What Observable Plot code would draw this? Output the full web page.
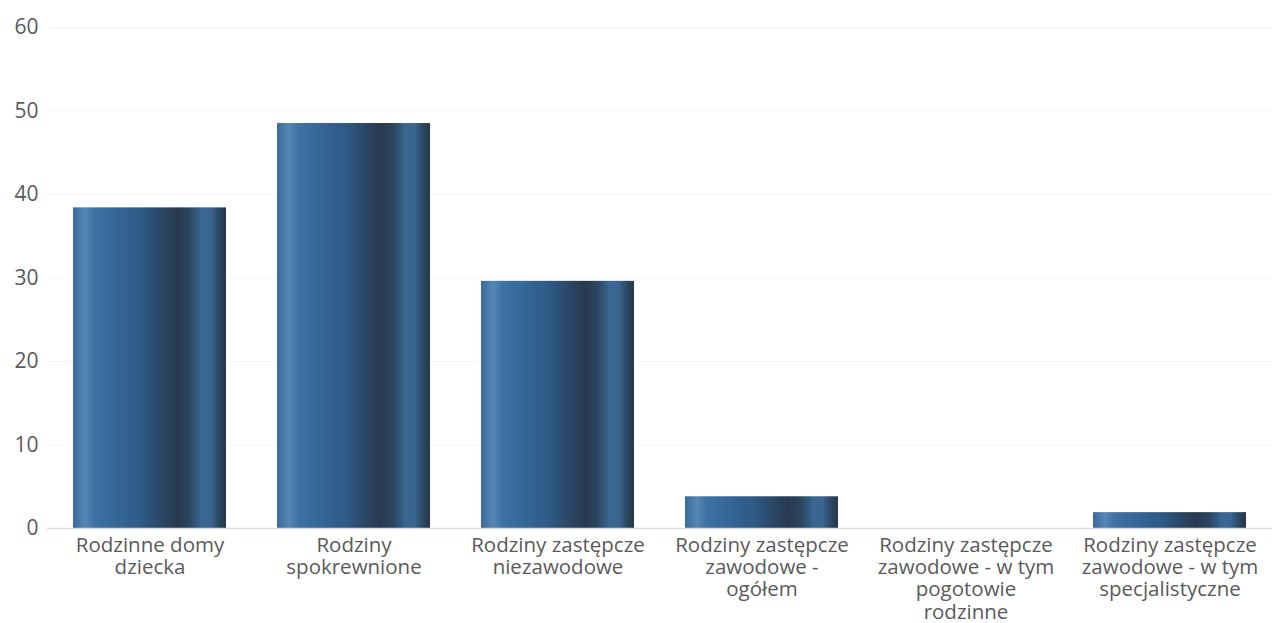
<!DOCTYPE html>
<html><head><meta charset="utf-8">
<script src="https://cdn.jsdelivr.net/npm/d3@7"></script>
<script src="https://cdn.jsdelivr.net/npm/@observablehq/plot@0.6"></script>
<style>
html,body{margin:0;padding:0;background:#fff;overflow:hidden;}
#chart{width:1272px;height:623px;}
</style></head>
<body><div id="chart"></div>
<script>
const categories = [
  "Rodzinne domy\ndziecka",
  "Rodziny\nspokrewnione",
  "Rodziny zastępcze\nniezawodowe",
  "Rodziny zastępcze\nzawodowe -\nogółem",
  "Rodziny zastępcze\nzawodowe - w tym\npogotowie\nrodzinne",
  "Rodziny zastępcze\nzawodowe - w tym\nspecjalistyczne"
];
const values = [38.4, 48.5, 29.6, 3.8, 0, 1.9];
const yTicks = [0, 10, 20, 30, 40, 50, 60];

const data = categories.map((c, i) => ({category: c, value: values[i]}));

const gradStops = [
  [0, "#3b6a99"], [0.08, "#5587b5"], [0.14, "#3f72a3"], [0.28, "#356797"],
  [0.45, "#2e5a86"], [0.58, "#2a4665"], [0.68, "#283a50"], [0.76, "#2b4560"],
  [0.84, "#3a6792"], [0.9, "#3a6590"], [0.96, "#2c445e"], [1, "#27374a"]
];

const defs = () => {
  const d = d3.create("svg:defs");
  const g = d.append("linearGradient").attr("id", "barGrad")
    .attr("x1", "0").attr("x2", "1").attr("y1", "0").attr("y2", "0");
  gradStops.forEach(([o, c]) => g.append("stop").attr("offset", o).attr("stop-color", c));
  return d.node();
};

const chart = Plot.plot({
  width: 1272,
  height: 623,
  marginLeft: 47,
  marginRight: 0,
  marginTop: 27,
  marginBottom: 95,
  style: {fontFamily: "'Open Sans', 'Noto Sans', sans-serif", fontSize: "21px", color: "#5a5a5a", background: "#fff"},
  x: {domain: categories, paddingInner: 0.25, paddingOuter: 0.125, label: null},
  y: {domain: [0, 60], label: null},
  marks: [
    defs,
    Plot.gridY(yTicks, {stroke: "#f5f5f5", strokeOpacity: 1}),
    Plot.barY(data, {x: "category", y: "value", fill: "url(#barGrad)"}),
    Plot.ruleY([0], {stroke: "#d8dde3", strokeWidth: 1.5}),
    Plot.axisY({ticks: yTicks, tickSize: 0, tickPadding: 9, fontSize: 21, fill: "#5a5a5a", label: null}),
    Plot.axisX({tickSize: 0, tickPadding: 8, fontSize: 20.5, lineHeight: 1.08, fill: "#5a5a5a", label: null})
  ]
});
document.getElementById("chart").appendChild(chart);
</script>
</body></html>
